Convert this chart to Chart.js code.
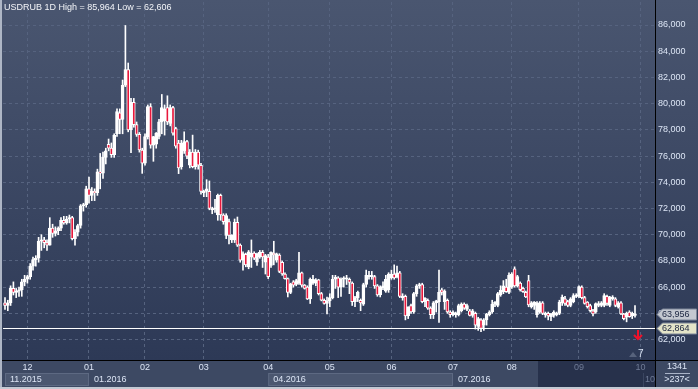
<!DOCTYPE html>
<html>
<head>
<meta charset="utf-8">
<style>
  html, body { margin: 0; padding: 0; background: #3d4963; }
  #wrap { position: relative; width: 698px; height: 389px; }
</style>
</head>
<body>
<div id="wrap"><canvas id="c" width="698" height="389"></canvas></div>
<script src="https://cdn.jsdelivr.net/npm/chart.js@4/dist/chart.umd.min.js"></script>
<script>
// USDRUB daily candles, 19.11.2015 - 30.09.2016 (one value per trading day)
const opens = [
  64.8, 64.6, 64.8, 65.9, 65.6, 65.7, 65.8, 66.4, 66.6, 66.8,
  67.6, 68.1, 68.2, 69.5, 69.6, 69.4, 69.2, 70.5, 70.1, 70.3,
  70.5, 71.1, 70.9, 71.2, 71.3, 69.7, 70.2, 70.7, 72.2, 72.3,
  73.5, 73.0, 73.3, 73.2, 74.8, 74.7, 75.9, 76.9, 76.6, 76.1,
  77.7, 79.3, 78.8, 81.4, 82.6, 78.0, 80.1, 78.4, 77.65, 76.46,
  75.45, 77.48, 79.77, 76.84, 76.9, 77.5, 78.6, 78.7, 79.7, 78.5,
  79.7, 78.1, 77.0, 75.2, 76.4, 77.1, 75.3, 76.3, 75.2, 76.3,
  75.3, 73.2, 73.3, 73.3, 71.9, 71.95, 71.5, 73.0, 71.5, 69.95,
  71.0, 69.6, 69.6, 70.95, 69.2, 68.05, 68.5, 67.55, 68.3, 68.6,
  67.9, 68.3, 68.65, 67.9, 68.3, 67.65, 68.6, 68.05, 68.45, 67.9,
  67.0, 66.65, 65.6, 66.4, 66.2, 66.3, 67.1, 66.15, 66.0, 65.1,
  66.3, 66.3, 66.55, 65.5, 65.0, 64.75, 64.95, 65.2, 66.6, 66.7,
  66.0, 66.6, 66.6, 66.6, 66.3, 64.9, 65.2, 65.0, 64.7, 66.2,
  66.8, 66.8, 66.8, 66.1, 65.4, 65.95, 65.7, 65.8, 66.7, 67.0,
  66.8, 67.1, 65.2, 65.3, 63.8, 64.6, 64.1, 65.5, 66.1, 66.2,
  64.9, 65.0, 64.4, 63.9, 64.8, 64.9, 65.8, 64.9, 65.0, 64.1,
  63.9, 63.9, 63.9, 64.2, 64.7, 64.3, 64.2, 63.85, 64.0, 63.0,
  63.5, 63.1, 63.5, 63.9, 64.1, 64.7, 64.6, 65.4, 65.65, 66.0,
  65.6, 66.0, 67.4, 66.1, 66.3, 65.9, 65.6, 66.5, 64.5, 64.6,
  63.9, 64.1, 64.8, 63.9, 64.0, 63.75, 63.85, 63.9, 64.0, 64.8,
  65.1, 64.9, 64.6, 64.9, 65.3, 65.3, 66.0, 65.2, 64.85, 64.6,
  64.2, 64.1, 64.6, 64.6, 64.6, 65.3, 64.6, 65.1, 65.1, 64.5,
  64.8, 63.95, 63.7, 64.1, 63.8, 63.85
];
const highs = [
  65.2, 65.0, 66.1, 66.4, 65.9, 66.0, 66.6, 66.9, 66.9, 67.8,
  68.3, 68.4, 69.8, 70.0, 69.8, 69.6, 71.3, 70.8, 70.6, 70.6,
  71.3, 71.4, 71.4, 71.5, 71.4, 70.4, 70.8, 72.3, 72.4, 73.7,
  74.4, 73.6, 73.5, 75.0, 76.2, 76.3, 76.6, 77.3, 77.0, 77.7,
  79.6, 79.6, 81.8, 85.964, 83.1, 80.4, 80.4, 78.6, 77.8, 76.6,
  77.7, 79.9, 80.0, 77.5, 77.8, 78.8, 80.7, 79.9, 80.6, 79.9,
  79.8, 78.2, 77.2, 77.2, 77.85, 77.2, 76.5, 77.6, 76.5, 76.45,
  75.45, 73.4, 74.2, 74.1, 72.1, 72.7, 73.1, 73.1, 71.6, 71.6,
  71.2, 70.0, 71.2, 71.35, 69.3, 68.7, 68.6, 68.8, 69.6, 68.7,
  68.6, 68.8, 68.8, 68.5, 68.5, 68.7, 69.5, 68.6, 68.55, 68.0,
  67.1, 66.7, 66.3, 66.5, 66.6, 68.65, 67.15, 66.2, 66.1, 66.7,
  66.9, 66.65, 66.6, 65.6, 65.1, 65.25, 65.5, 66.9, 66.9, 66.8,
  66.7, 66.8, 66.9, 66.7, 66.4, 65.3, 65.7, 65.1, 66.3, 67.3,
  67.2, 67.2, 66.9, 66.2, 66.1, 66.4, 66.9, 67.1, 67.3, 67.7,
  67.6, 67.2, 65.5, 65.4, 64.5, 64.7, 65.6, 66.2, 66.3, 66.3,
  65.2, 65.1, 64.5, 64.9, 65.0, 67.3, 65.9, 65.8, 65.1, 64.2,
  64.2, 64.1, 64.7, 64.8, 64.8, 64.7, 64.3, 64.3, 64.1, 63.7,
  63.6, 63.6, 64.0, 64.2, 65.0, 64.9, 65.6, 66.1, 66.5, 66.6,
  67.1, 67.1, 67.55, 66.9, 66.4, 66.0, 65.7, 66.9, 64.9, 64.9,
  64.9, 64.9, 64.9, 64.1, 64.1, 64.0, 64.2, 64.1, 65.0, 65.4,
  65.3, 65.0, 65.2, 65.5, 65.5, 66.1, 66.1, 65.3, 64.9, 64.7,
  64.3, 64.8, 64.9, 64.9, 65.5, 65.4, 65.3, 65.35, 65.2, 64.9,
  64.9, 64.0, 64.1, 64.2, 64.1, 64.6
];
const lows = [
  64.3, 64.2, 64.6, 65.4, 65.2, 65.3, 65.3, 66.1, 66.3, 66.6,
  67.3, 67.6, 67.9, 68.8, 69.0, 68.8, 69.2, 69.8, 69.9, 70.0,
  70.3, 70.8, 70.8, 70.9, 69.6, 69.2, 69.9, 70.5, 71.8, 72.1,
  72.4, 72.6, 72.6, 73.0, 73.5, 74.3, 75.4, 76.4, 75.9, 75.9,
  77.5, 77.7, 77.7, 81.3, 77.85, 76.25, 78.2, 77.5, 76.3, 74.68,
  75.3, 77.3, 76.6, 75.6, 76.6, 77.3, 77.7, 77.6, 78.4, 78.3,
  77.6, 76.6, 74.66, 75.0, 76.2, 75.8, 75.1, 75.1, 75.0, 75.0,
  73.1, 72.9, 72.9, 71.9, 71.6, 71.7, 71.1, 71.1, 70.8, 69.7,
  69.3, 69.4, 69.4, 69.1, 67.9, 67.3, 67.55, 67.4, 67.5, 68.1,
  67.65, 68.2, 67.5, 67.0, 66.65, 67.5, 67.7, 67.9, 67.1, 66.9,
  66.6, 65.25, 65.5, 66.0, 66.1, 66.2, 66.0, 65.85, 65.05, 64.75,
  66.2, 66.1, 65.4, 64.95, 64.7, 63.95, 64.5, 65.1, 65.9, 65.2,
  65.3, 66.0, 66.2, 65.5, 64.6, 64.5, 64.9, 64.2, 64.6, 66.0,
  66.6, 66.6, 65.9, 65.3, 65.25, 65.8, 65.6, 65.6, 66.6, 66.6,
  66.7, 65.2, 65.0, 63.5, 63.6, 64.0, 64.0, 65.3, 65.9, 64.8,
  64.5, 64.3, 63.6, 63.6, 64.1, 63.3, 65.4, 64.3, 64.0, 63.7,
  63.8, 63.7, 63.8, 64.1, 64.3, 64.2, 63.8, 63.7, 62.8, 62.7,
  62.606, 62.7, 63.1, 63.8, 64.0, 64.5, 64.5, 65.3, 65.5, 65.6,
  65.5, 65.9, 66.0, 66.0, 65.7, 65.6, 65.2, 64.5, 64.4, 64.3,
  63.7, 64.0, 63.9, 63.7, 63.5, 63.45, 63.7, 63.8, 63.9, 64.6,
  64.6, 64.5, 64.5, 64.8, 65.2, 65.2, 65.1, 64.7, 64.4, 64.1,
  63.8, 64.0, 64.5, 64.5, 64.5, 64.6, 64.5, 65.0, 64.5, 64.4,
  63.9, 63.5, 63.35, 63.7, 63.6, 63.7
];
const closes = [
  64.6, 64.8, 65.9, 65.6, 65.7, 65.8, 66.4, 66.6, 66.8, 67.6,
  68.1, 68.2, 69.5, 69.6, 69.4, 69.2, 70.5, 70.1, 70.3, 70.5,
  71.1, 70.9, 71.2, 71.3, 69.7, 70.2, 70.7, 72.2, 72.3, 73.5,
  73.0, 73.3, 73.2, 74.8, 74.7, 75.9, 76.4, 76.6, 76.1, 77.6,
  79.4, 78.8, 81.4, 82.6, 78.0, 80.1, 78.4, 77.65, 76.46, 75.45,
  77.48, 79.77, 76.84, 77.48, 77.73, 78.62, 79.7, 79.6, 78.6, 79.7,
  77.75, 76.75, 75.1, 77.0, 77.1, 76.0, 76.3, 75.2, 76.3, 75.3,
  73.3, 73.3, 73.5, 72.0, 72.0, 72.05, 73.0, 71.5, 71.0, 71.45,
  69.95, 69.95, 70.95, 69.2, 68.05, 68.56, 67.7, 68.7, 68.6, 68.2,
  68.55, 68.65, 68.3, 68.4, 66.8, 68.65, 68.45, 68.55, 67.2, 67.0,
  66.65, 65.6, 66.25, 66.15, 66.5, 67.1, 66.15, 65.9, 65.1, 66.6,
  66.6, 66.55, 65.5, 65.0, 64.75, 64.95, 65.2, 66.6, 66.75, 66.0,
  66.6, 66.7, 66.7, 66.35, 64.9, 65.2, 65.6, 64.8, 66.2, 66.9,
  66.9, 66.9, 66.1, 65.4, 66.0, 66.1, 66.6, 67.0, 67.0, 66.7,
  67.1, 65.3, 65.3, 63.8, 64.5, 64.1, 65.5, 66.1, 66.2, 64.9,
  65.15, 64.4, 63.9, 64.8, 64.95, 65.6, 65.6, 65.7, 64.1, 63.9,
  64.1, 64.0, 64.6, 64.7, 64.4, 64.6, 63.85, 64.2, 63.1, 63.6,
  62.85, 63.5, 63.95, 64.1, 64.7, 64.85, 65.5, 65.75, 66.1, 65.65,
  66.9, 67.0, 66.1, 66.8, 65.8, 65.65, 65.25, 64.65, 64.8, 64.85,
  64.8, 64.8, 64.0, 64.0, 63.8, 63.95, 64.1, 64.0, 64.85, 65.25,
  64.75, 64.6, 65.1, 65.35, 65.4, 66.05, 65.2, 64.75, 64.5, 64.2,
  63.95, 64.75, 64.75, 64.8, 65.35, 64.75, 65.25, 65.25, 64.6, 64.8,
  63.95, 63.6, 64.0, 63.75, 64.0, 63.956
];

// first bar of each month and its label
const monthIdx = [8, 30, 50, 71, 94, 116, 138, 160, 181, 205, 227];
const monthLabels = ["12", "01", "02", "03", "04", "05", "06", "07", "08", "09", "10"];
// second row of the time axis
const yearIdx = [0, 30, 94, 160];
const yearLabels = ["11.2015", "01.2016", "04.2016", "07.2016"];

const markLevel = 62.864; // horizontal line
const barsInfo = ["1341", ">237<"];

const FONT = '9px "Liberation Sans", Arial, sans-serif';
const RED = "#e8183c";
const GRID = "#56637f";
const fmt = (v) => v.toFixed(3).replace(".", ",");

const idx = closes.map((_, i) => i);
const lastClose = closes[closes.length - 1];

const deco = {
  id: "deco",
  beforeDraw(chart) {
    const { ctx, chartArea: a, scales: { x } } = chart;
    const W = chart.width, H = chart.height;
    ctx.save();
    // plot + price axis background
    const g = ctx.createLinearGradient(0, 0, 0, a.bottom);
    g.addColorStop(0, "#4a5670");
    g.addColorStop(1, "#2d3956");
    ctx.fillStyle = g;
    ctx.fillRect(0, 0, W, a.bottom);
    // time axis rows
    ctx.fillStyle = "#3d4963";
    ctx.fillRect(0, a.bottom, W, H - a.bottom);
    ctx.font = FONT;
    ctx.textBaseline = "middle";
    yearIdx.forEach((v, k) => {
      const x0 = x.getPixelForValue(v);
      const x1 = k < yearIdx.length - 1 ? x.getPixelForValue(yearIdx[k + 1]) : a.right;
      if (k % 2 === 0) {
        ctx.fillStyle = "#4b5770";
        ctx.fillRect(x0, 373, x1 - x0, 13);
        ctx.strokeStyle = "#5d6982";
        ctx.strokeRect(x0 + 0.5, 373.5, x1 - x0 - 1, 12);
      }
    });
    // darker selection box at the right end of the time axis
    ctx.fillStyle = "#27314b";
    ctx.fillRect(538, a.bottom, a.right - 538, H - a.bottom);
    ctx.strokeStyle = "#3a4560";
    ctx.beginPath();
    ctx.moveTo(643.5, 373);
    ctx.lineTo(643.5, 387);
    ctx.stroke();
    yearIdx.forEach((v, k) => {
      ctx.fillStyle = "#dce5f5";
      ctx.textAlign = "left";
      ctx.fillText(yearLabels[k], x.getPixelForValue(v) + 5, 380);
    });
    ctx.fillStyle = "#6f7b96";
    ctx.fillText(monthLabels[monthLabels.length - 1], 645, 380);
    // bar counter box under the price axis
    ctx.fillStyle = "#dce5f5";
    ctx.textAlign = "center";
    ctx.fillText(barsInfo[0], 677, 367);
    ctx.fillText(barsInfo[1], 677, 380);
    ctx.strokeStyle = "#aab4c8";
    ctx.beginPath();
    ctx.moveTo(665, 373.5);
    ctx.lineTo(690, 373.5);
    ctx.stroke();
    ctx.restore();
  },
  beforeDatasetsDraw(chart) {
    const { ctx, chartArea: a, scales: { y } } = chart;
    const py = Math.round(y.getPixelForValue(markLevel)) + 0.5;
    ctx.save();
    ctx.strokeStyle = "#ffffff";
    ctx.lineWidth = 1;
    ctx.beginPath();
    ctx.moveTo(a.left, py);
    ctx.lineTo(a.right, py);
    ctx.stroke();
    ctx.restore();
  },
  afterDraw(chart) {
    const { ctx, chartArea: a, scales: { y } } = chart;
    const W = chart.width, H = chart.height;
    ctx.save();
    ctx.font = FONT;
    ctx.textBaseline = "middle";
    ctx.textAlign = "left";
    // price tags
    const tag = (v, fill) => {
      const py = Math.round(y.getPixelForValue(v)) + 0.5;
      ctx.beginPath();
      ctx.moveTo(657, py);
      ctx.lineTo(662.5, py - 5.5);
      ctx.lineTo(696.5, py - 5.5);
      ctx.lineTo(696.5, py + 5.5);
      ctx.lineTo(662.5, py + 5.5);
      ctx.closePath();
      ctx.fillStyle = fill;
      ctx.fill();
      ctx.strokeStyle = "#7d8699";
      ctx.stroke();
      ctx.fillStyle = "#1b2540";
      ctx.fillText(fmt(v), 662, py);
    };
    tag(lastClose, "#c4c8d0");
    tag(markLevel, "#e4e4c8");
    // red arrow
    ctx.strokeStyle = "#f0102a";
    ctx.lineWidth = 2;
    ctx.beginPath();
    ctx.moveTo(638, 330);
    ctx.lineTo(638, 339);
    ctx.moveTo(634, 335);
    ctx.lineTo(638, 339);
    ctx.lineTo(642, 335);
    ctx.stroke();
    // small marker and count at the bottom right of the plot
    ctx.fillStyle = "#56627c";
    ctx.beginPath();
    ctx.moveTo(629, 357);
    ctx.lineTo(637, 357);
    ctx.lineTo(633, 352);
    ctx.closePath();
    ctx.fill();
    ctx.fillStyle = "#dce5f5";
    ctx.font = '10px "Liberation Sans", Arial, sans-serif';
    ctx.fillText("7", 638, 354);
    // frame lines
    ctx.fillStyle = "#000000";
    ctx.fillRect(a.right, 0, 1, H);
    ctx.fillRect(0, a.bottom, W, 1);
    ctx.fillStyle = "#aeb6c5";
    ctx.fillRect(0, 0, 2, H);
    ctx.fillStyle = "#c3c9d3";
    ctx.fillRect(0, H - 2, W, 2);
    // title
    ctx.font = FONT;
    ctx.fillStyle = "#f2f4f8";
    ctx.fillText(
      "USDRUB 1D High = " + fmt(Math.max(...highs)) + " Low = " + fmt(Math.min(...lows)),
      4, 8
    );
    ctx.restore();
  },
};

new Chart(document.getElementById("c"), {
  type: "bar",
  data: {
    datasets: [
      {
        label: "body",
        data: idx.map((i) => ({ x: i, y: [opens[i], closes[i]] })),
        backgroundColor: idx.map((i) => (closes[i] >= opens[i] ? "#ffffff" : RED)),
        borderColor: "#ffffff",
        borderWidth: 1,
        borderSkipped: false,
        barThickness: 3,
        grouped: false,
      },
      {
        label: "wick",
        data: idx.map((i) => ({ x: i, y: [lows[i], highs[i]] })),
        backgroundColor: "#ffffff",
        borderWidth: 0,
        barThickness: 1,
        grouped: false,
      },
    ],
  },
  options: {
    responsive: false,
    animation: false,
    devicePixelRatio: 1,
    layout: { padding: { left: 3, top: 2, right: 0, bottom: 0 } },
    plugins: { legend: { display: false }, tooltip: { enabled: false } },
    scales: {
      x: {
        type: "linear",
        offset: false,
        stacked: false,
        min: -0.714,
        max: 232.143,
        afterBuildTicks: (s) => {
          s.ticks = monthIdx.map((v) => ({ value: v }));
        },
        afterFit: (s) => {
          s.height = 29;
          s.paddingLeft = 0;
          s.paddingRight = 0;
        },
        grid: { color: GRID, drawTicks: false, offset: false },
        border: { display: false, dash: [3, 3] },
        ticks: {
          autoSkip: false,
          maxRotation: 0,
          padding: 2,
          font: { family: '"Liberation Sans", Arial, sans-serif', size: 9 },
          color: (c) => (c.index >= 9 ? "#6f7b96" : "#dce5f5"),
          callback: (v, i) => monthLabels[i],
        },
      },
      y: {
        position: "right",
        stacked: false,
        min: 60.44,
        max: 87.755,
        afterFit: (s) => {
          s.width = 43;
          s.paddingTop = 0;
          s.paddingBottom = 0;
        },
        grid: { color: GRID, drawTicks: false },
        border: { display: false, dash: [3, 3] },
        ticks: {
          stepSize: 2,
          includeBounds: false,
          padding: 3,
          font: { family: '"Liberation Sans", Arial, sans-serif', size: 9 },
          color: "#dce5f5",
          callback: (v) => fmt(v),
        },
      },
    },
  },
  plugins: [deco],
});
</script>
</body>
</html>
